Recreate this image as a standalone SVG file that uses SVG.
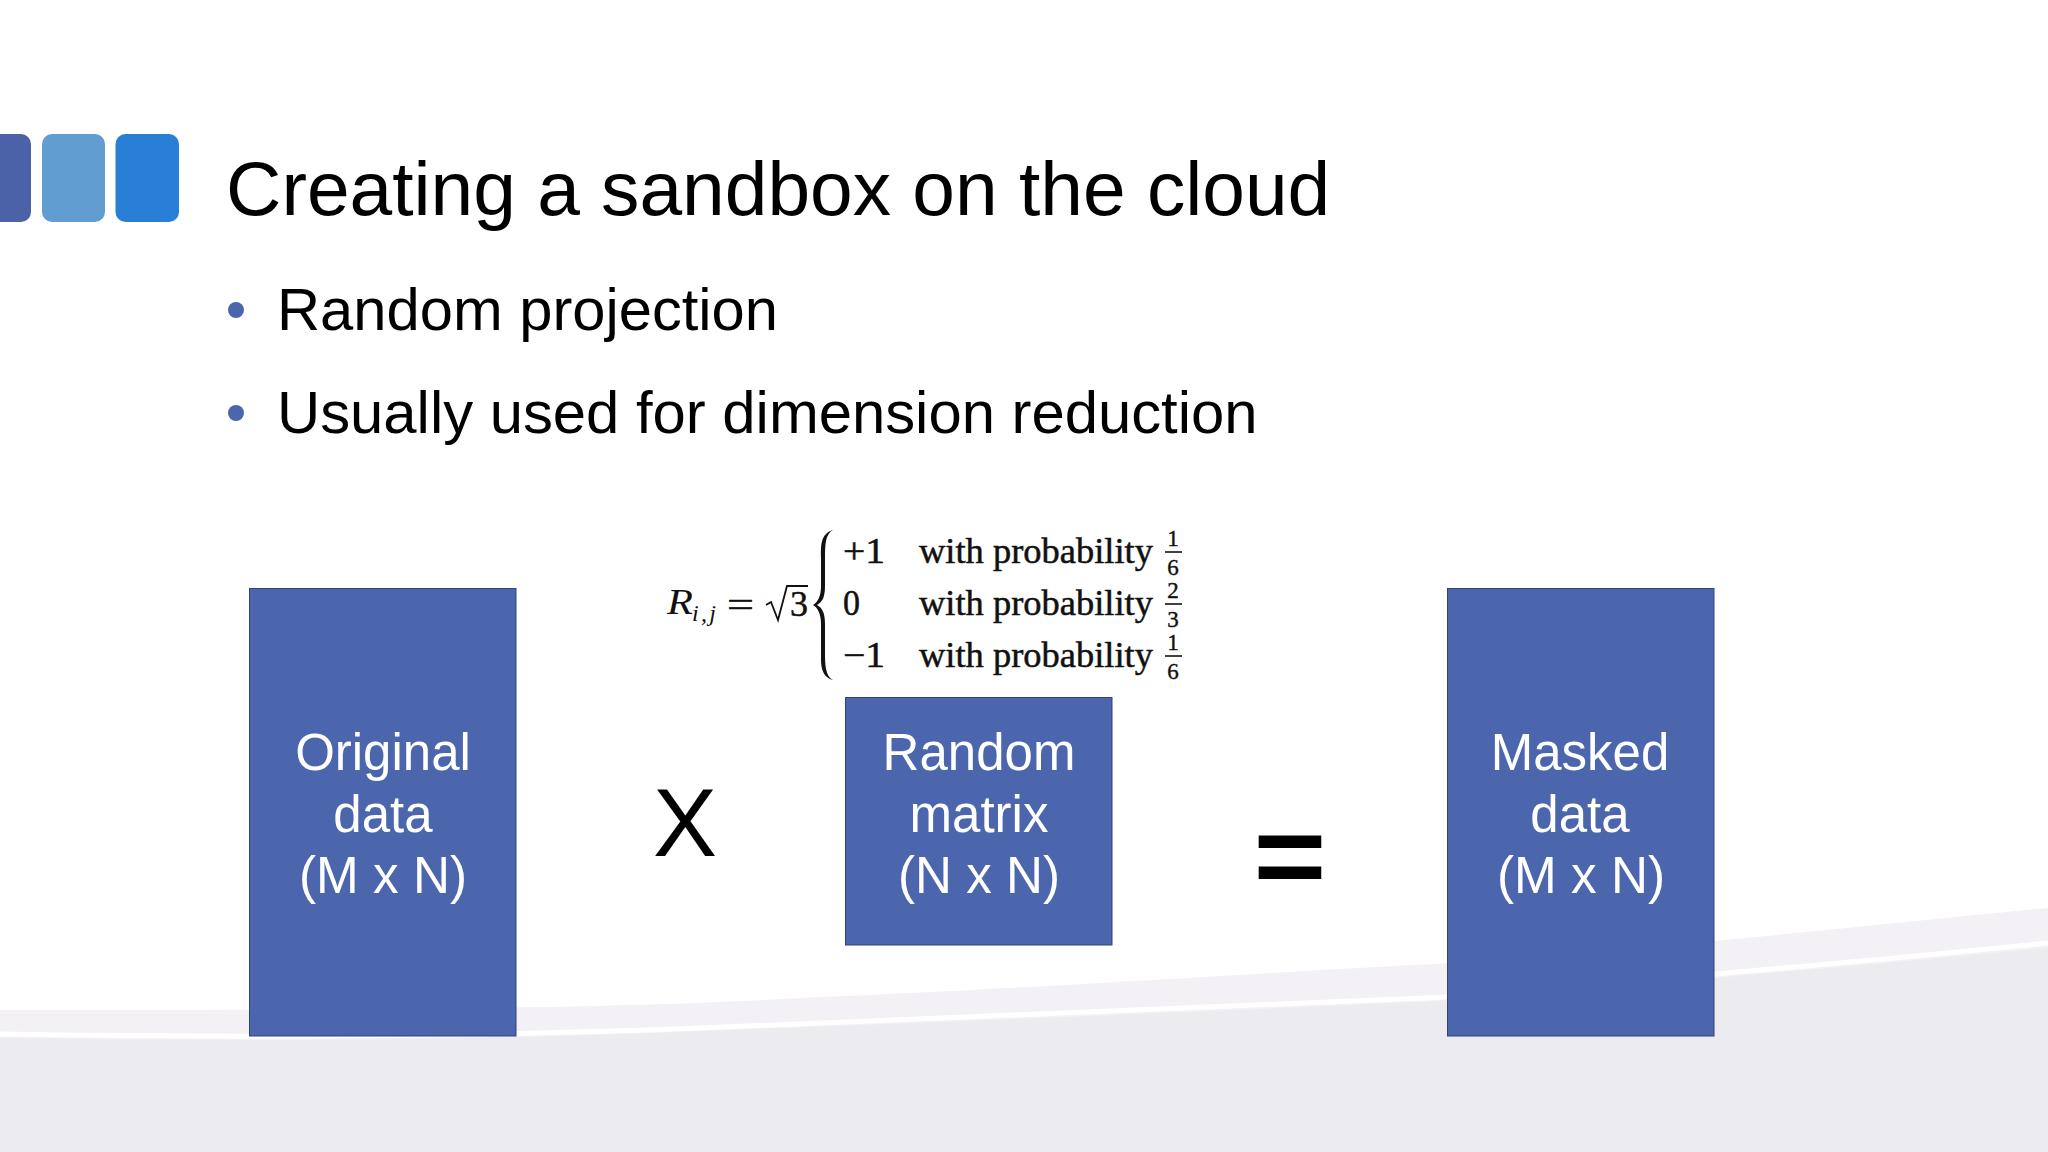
<svg xmlns="http://www.w3.org/2000/svg" width="2048" height="1152" viewBox="0 0 2048 1152">
<style>
.s{font-family:"Liberation Sans",Arial,sans-serif;fill:#000}
.w{font-family:"Liberation Sans",Arial,sans-serif;fill:#fff;font-size:51px;text-anchor:middle}
.m{font-family:"Liberation Serif","Times New Roman",serif;fill:#111;stroke:#111;stroke-width:.5;font-size:36px}
.f{font-family:"Liberation Serif","Times New Roman",serif;fill:#111;stroke:#111;stroke-width:.4;font-size:23px;text-anchor:middle}
.box{fill:#4b66ad;stroke:#2f4577;stroke-width:1}
.fr{stroke:#111;stroke-width:1.6}
</style>
<rect width="2048" height="1152" fill="#fff"/>
<path d="M0 1010C300 1010 600 1010 800 998C1100 985 1300 970 1437 964C1700 945 1900 922 2048 908V1152H0Z" fill="#f3f1f5"/>
<path d="M0 1038C250 1042 500 1040 700 1031C1000 1020 1250 1010 1437 1001C1700 980 1900 962 2048 948V1152H0Z" fill="#ecebef"/>
<path d="M0 1034C250 1038 500 1036 700 1028C1000 1017 1250 1007 1437 997.500C1700 976 1900 958 2048 943" fill="none" stroke="#fff" stroke-width="5"/>
<g id="logo">
<rect x="-30" y="134" width="61" height="88" rx="10" fill="#4b62a8"/>
<rect x="42" y="134" width="63" height="88" rx="10" fill="#629dd1"/>
<rect x="115.500" y="134" width="63.500" height="88" rx="10" fill="#297fd5"/>
</g>
<text class="s" x="226" y="215" font-size="76.700">Creating a sandbox on the cloud</text>
<g id="bullets">
<circle cx="236" cy="310" r="8" fill="#4b66ad"/>
<text class="s" x="277" y="330" font-size="59.700">Random projection</text>
<circle cx="236" cy="413" r="8" fill="#4b66ad"/>
<text class="s" x="277" y="433" font-size="59.800">Usually used for dimension reduction</text>
</g>
<g id="formula">
<text x="667" y="614" font-family="Liberation Serif,serif" font-style="italic" font-size="36" fill="#111" textLength="26" lengthAdjust="spacingAndGlyphs">R</text>
<text x="692" y="621" font-family="Liberation Serif,serif" font-style="italic" font-size="24" fill="#111" textLength="24">i,j</text>
<text class="m" x="727" y="617" font-size="40" textLength="27" lengthAdjust="spacingAndGlyphs">=</text>
<path d="M766 605l5 -3l7 18l9 -34h21" fill="none" stroke="#111" stroke-width="1.800"/>
<text class="m" x="790" y="616">3</text>
<path d="M833 530C820 534 821 546 821 558V586C821 596 818 602 813 605C818 608 821 614 821 624V652C821 664 820 676 833 680C825 676 825 664 825 652V624C825 612 822 608 817 605C822 602 825 598 825 586V558C825 546 825 534 833 530Z" fill="#111"/>
<text class="m" x="843" y="563" textLength="42" lengthAdjust="spacingAndGlyphs">+1</text>
<text class="m" x="843" y="615" textLength="17" lengthAdjust="spacingAndGlyphs">0</text>
<text class="m" x="843" y="667" textLength="42" lengthAdjust="spacingAndGlyphs">−1</text>
<text class="m" x="919" y="563" textLength="234" lengthAdjust="spacingAndGlyphs">with probability</text>
<text class="m" x="919" y="615" textLength="234" lengthAdjust="spacingAndGlyphs">with probability</text>
<text class="m" x="919" y="667" textLength="234" lengthAdjust="spacingAndGlyphs">with probability</text>
<text class="f" x="1173" y="546">1</text><line class="fr" x1="1165" x2="1182" y1="552" y2="552"/><text class="f" x="1173" y="575">6</text>
<text class="f" x="1173" y="598">2</text><line class="fr" x1="1165" x2="1182" y1="604" y2="604"/><text class="f" x="1173" y="627">3</text>
<text class="f" x="1173" y="650">1</text><line class="fr" x1="1165" x2="1182" y1="656" y2="656"/><text class="f" x="1173" y="679">6</text>
</g>
<g id="original">
<rect class="box" x="249.500" y="588.500" width="266.500" height="447.500"/>
<text class="w" x="383" y="770">Original</text><text class="w" x="383" y="832">data</text><text class="w" x="383" y="893" textLength="168" lengthAdjust="spacingAndGlyphs">(M x N)</text>
</g>
<g id="times"><text class="s" x="685" y="856" font-size="96" text-anchor="middle">X</text></g>
<g id="random">
<rect class="box" x="845.500" y="697.500" width="266.500" height="247.500"/>
<text class="w" x="979" y="770">Random</text><text class="w" x="979" y="832">matrix</text><text class="w" x="979" y="893" textLength="162" lengthAdjust="spacingAndGlyphs">(N x N)</text>
</g>
<g id="equals"><text class="s" font-size="96" font-weight="bold" text-anchor="middle" transform="translate(1290 895) scale(1.3 1.2)">=</text></g>
<g id="masked">
<rect class="box" x="1447.500" y="588.500" width="266.500" height="447.500"/>
<text class="w" x="1580" y="770">Masked</text><text class="w" x="1580" y="832">data</text><text class="w" x="1581" y="893" textLength="168" lengthAdjust="spacingAndGlyphs">(M x N)</text>
</g>
</svg>
